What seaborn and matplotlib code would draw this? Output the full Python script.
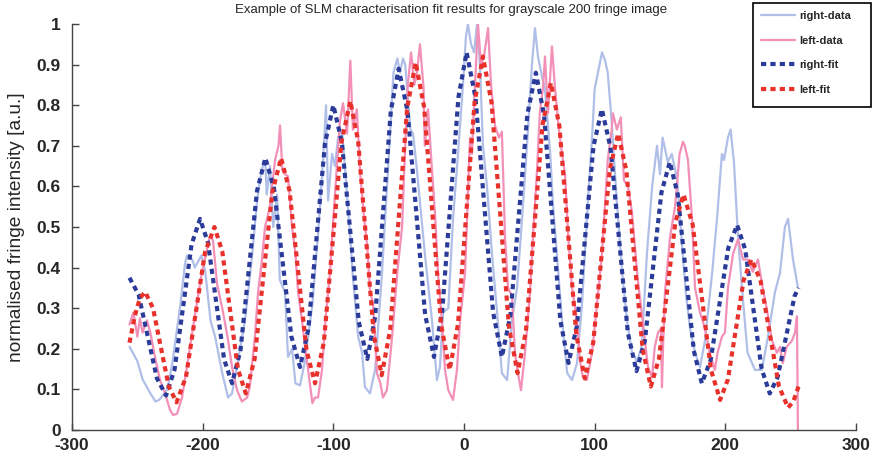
import matplotlib
matplotlib.use("Agg")
import matplotlib.pyplot as plt
from matplotlib.patches import Rectangle
import seaborn as sns
import numpy as np
import pandas as pd

# ---------------- data ----------------
right_data_x = [-256, -250, -246, -240, -236, -233, -227, -223, -217, -213.5, -212, -208, -206, -201, -198,
                -194, -190.5, -185, -180.6, -177.5, -173, -167.6, -162, -158.4, -156, -154, -152, -151, -148.5,
                -146, -143, -141, -137, -134.7, -131.6, -129, -125.5, -121.7, -116, -111.7, -108, -105.6, -104,
                -101, -98.7, -96.4, -93.4, -91, -87, -85, -81, -78, -75.8, -72, -68, -62.8, -58, -54, -51, -49,
                -46.7, -45, -41, -39, -36, -30, -24.5, -20.7, -18.4, -16, -12, -8.4, -4.6, -0.8, 1.5, 3, 5.4,
                7.7, 10, 12.2, 14.5, 17.6, 21.4, 25.3, 29, 33, 36.7, 40.6, 44.4, 48.2, 52, 54.3, 56.6, 59.7,
                62, 66, 68, 71, 75, 79, 82.7, 86.5, 90.3, 94, 98, 100, 102.5, 105.6, 108, 110, 113, 117, 121,
                124.7, 128.6, 132.4, 136, 140, 144, 147.7, 150, 152, 156, 159, 163, 167, 170, 173, 176.8,
                180.6, 184.4, 190, 193.6, 197.4, 199, 202, 204, 206.6, 209.7, 213.5, 217, 222.7, 228, 232.6,
                238, 241.8, 245.6, 248, 251.8, 255.6]
right_data_y = [0.205, 0.17, 0.125, 0.09, 0.07, 0.075, 0.10, 0.17, 0.31, 0.41, 0.43, 0.42, 0.40, 0.43, 0.39,
                0.27, 0.23, 0.14, 0.08, 0.09, 0.17, 0.27, 0.435, 0.565, 0.62, 0.65, 0.66, 0.58, 0.65,
                0.50, 0.58, 0.37, 0.34, 0.18, 0.20, 0.115, 0.11, 0.17, 0.31, 0.485, 0.655, 0.80, 0.565,
                0.68, 0.65, 0.72, 0.74, 0.64, 0.475, 0.377, 0.23, 0.19, 0.106, 0.09, 0.148, 0.386, 0.65,
                0.88, 0.915, 0.88, 0.915, 0.90, 0.74, 0.73, 0.64, 0.435, 0.27, 0.123, 0.155, 0.29, 0.30,
                0.52, 0.68, 0.85, 0.97, 1.0, 0.95, 0.93, 1.0, 0.90, 0.70, 0.60, 0.435, 0.29, 0.14, 0.123,
                0.27, 0.35, 0.52, 0.70, 0.90, 0.99, 0.92, 0.87, 0.84, 0.68, 0.56, 0.435, 0.27, 0.14, 0.123,
                0.165, 0.31, 0.52, 0.72, 0.84, 0.88, 0.93, 0.91, 0.88, 0.76, 0.56, 0.39, 0.27, 0.19, 0.17,
                0.205, 0.435, 0.60, 0.70, 0.63, 0.72, 0.66, 0.68, 0.62, 0.45, 0.33, 0.25, 0.19, 0.155,
                0.22, 0.39, 0.52, 0.68, 0.665, 0.72, 0.74, 0.66, 0.475, 0.32, 0.19, 0.148, 0.148, 0.23,
                0.34, 0.386, 0.50, 0.52, 0.42, 0.35]

left_data_x = [-256, -253, -250, -248, -246, -242.6, -240, -236.5, -232.6, -228.8, -225, -222.7, -219.6,
               -215.8, -212, -208, -204, -200.5, -197, -195, -193.5, -192, -189, -185, -181, -177.5, -173.7,
               -170, -166, -164, -160, -157.6, -154.6, -152.3, -148.5, -144.6, -142, -140.8, -139, -137,
               -134.7, -131.6, -129, -127, -124, -120, -116, -114, -111.7, -108.7, -106, -102.5, -100, -97,
               -95, -92.6, -89.5, -87, -85, -82, -79.6, -77, -74, -72, -69.6, -66.6, -64, -62, -59, -55,
               -51, -47.4, -45, -43, -40.5, -38, -36, -33.7, -31, -30, -27.5, -24.5, -22, -20, -17, -14.5,
               -12, -8.4, -5.4, -3, 0.8, 2.3, 4.6, 6, 8.4, 10.7, 13, 15.3, 18.4, 20.7, 23.7, 26.8, 29,
               31.4, 33.7, 36.7, 39, 41.3, 43.6, 46.7, 50.5, 52.8, 55.9, 58, 60.5, 62, 64.3, 67.3, 69.6,
               72, 75, 77.3, 79.6, 82.7, 84, 86.5, 88.8, 91, 94, 98, 101.8, 105.6, 108, 110, 113, 114, 117,
               120, 122.4, 125.5, 128.6, 130.9, 133, 136, 138.5, 140.8, 143.9, 146, 148.5, 150.8, 151.5,
               152.3, 153.8, 157.7, 161.5, 165, 167.6, 169, 171.4, 174.5, 176.8, 180.6, 184.4, 188, 192,
               194, 197.4, 199.7, 202, 206, 209.7, 213.5, 217.3, 221, 225, 228, 231.9, 235.7, 239.5,
               241.8, 244, 247, 251, 253.3, 254.8, 255.6]
left_data_y = [0.26, 0.29, 0.23, 0.275, 0.24, 0.27, 0.24, 0.18, 0.123, 0.09, 0.05, 0.037, 0.04,
               0.08, 0.155, 0.24, 0.32, 0.39, 0.44, 0.47, 0.48, 0.465, 0.36, 0.30, 0.23, 0.155, 0.098,
               0.07, 0.08, 0.105, 0.23, 0.34, 0.42, 0.50, 0.55, 0.665, 0.70, 0.75, 0.64, 0.63,
               0.625, 0.50, 0.435, 0.34, 0.27, 0.165, 0.066, 0.08, 0.08, 0.148, 0.27, 0.39, 0.52, 0.665,
               0.76, 0.805, 0.73, 0.91, 0.74, 0.79, 0.64, 0.54, 0.45, 0.345, 0.31, 0.14, 0.115, 0.08,
               0.098, 0.23, 0.39, 0.50, 0.70, 0.85, 0.93, 0.85, 0.88, 0.95, 0.845, 0.70, 0.79, 0.64,
               0.525, 0.39, 0.27, 0.148, 0.098, 0.074, 0.148, 0.27, 0.386, 0.52, 0.72, 0.68, 0.85, 1.0,
               0.90, 0.92, 0.99, 0.85, 0.75, 0.72, 0.735, 0.475, 0.35, 0.33, 0.19, 0.14, 0.098, 0.19,
               0.34, 0.475, 0.64, 0.78, 0.845, 0.92, 0.78, 0.945, 0.845, 0.76, 0.68, 0.63, 0.485, 0.35,
               0.32, 0.27, 0.17, 0.13, 0.123, 0.19, 0.31, 0.435, 0.56, 0.665, 0.74, 0.78, 0.74, 0.77,
               0.615, 0.60, 0.535, 0.45, 0.37, 0.29, 0.22, 0.155, 0.13, 0.205, 0.24, 0.25, 0.105, 0.20,
               0.34, 0.475, 0.55, 0.68, 0.71, 0.70, 0.665, 0.52, 0.35, 0.29, 0.25, 0.19, 0.148, 0.19,
               0.23, 0.24, 0.35, 0.435, 0.47, 0.42, 0.42, 0.39, 0.42, 0.36, 0.295, 0.22, 0.19, 0.205,
               0.165, 0.205, 0.22, 0.24, 0.28, -0.02]

right_fit_x = [-256, -249, -242, -235, -228, -221.5, -215, -208.5, -202, -195.9, -189.75, -183.6, -177.5,
               -171.1, -164.75, -158.4, -152, -145.4, -138.75, -132.1, -125.5, -119.1, -112.75, -106.4, -100,
               -93.5, -87, -80.5, -74, -68, -62, -56, -50, -43.25, -36.5, -29.75, -23, -16.75, -10.5, -4.25,
               2, 8.75, 15.5, 22.25, 29, 35.5, 42, 48.5, 55, 61.25, 67.5, 73.75, 80, 86.4, 92.75, 99.1,
               105.5, 112.1, 118.75, 125.4, 132, 138.4, 144.75, 151.1, 157.5, 163.6, 169.75, 175.9, 182,
               188.75, 195.5, 202.25, 209, 215.25, 221.5, 227.75, 234, 240, 246.5, 253, 256]
right_fit_y = [0.375, 0.333, 0.23, 0.127, 0.085, 0.149, 0.3025, 0.457, 0.52, 0.461, 0.3175, 0.174, 0.115,
               0.196, 0.3925, 0.589, 0.67, 0.595, 0.4125, 0.23, 0.155, 0.249, 0.4775, 0.706, 0.80,
               0.709, 0.4875, 0.266, 0.175, 0.279, 0.5325, 0.786, 0.89, 0.786, 0.535, 0.284, 0.18, 0.29,
               0.555, 0.82, 0.93, 0.82, 0.555, 0.29, 0.18, 0.282, 0.53, 0.778, 0.88, 0.776, 0.5225, 0.269,
               0.165, 0.256, 0.4775, 0.699, 0.79, 0.696, 0.4675, 0.239, 0.145, 0.22, 0.4025, 0.585, 0.66,
               0.58, 0.3875, 0.195, 0.115, 0.172, 0.31, 0.448, 0.505, 0.444, 0.2975, 0.151, 0.09, 0.13,
               0.23, 0.33, 0.35]

left_fit_x = [-256, -252, -248, -244, -238, -232, -226, -220, -212.75, -205.5, -198.25, -191, -185, -179,
              -173, -167, -160.25, -153.5, -146.75, -140, -133.5, -127, -120.5, -114, -107.25, -100.5,
              -93.75, -87, -81, -75, -69, -63, -56.5, -50, -43.5, -37, -30.5, -24, -17.5, -11, -4.6, 1.75,
              8.1, 14.5, 21.1, 27.75, 34.4, 41, 47.4, 53.75, 60.1, 66.5, 73, 79.5, 86, 92.5, 98.9, 105.25,
              111.6, 118, 124.25, 130.5, 136.75, 143, 149.25, 155.5, 161.75, 168, 175, 182, 189, 196, 202,
              208, 214, 220, 227, 234, 241, 248, 252, 256]
left_fit_y = [0.215, 0.28, 0.325, 0.34, 0.30, 0.204, 0.108, 0.068, 0.131, 0.284, 0.437, 0.50, 0.44, 0.295,
              0.15, 0.09, 0.175, 0.38, 0.585, 0.67, 0.589, 0.3925, 0.196, 0.115, 0.216, 0.4625, 0.709,
              0.81, 0.711, 0.4725, 0.234, 0.135, 0.247, 0.52, 0.793, 0.905, 0.795, 0.5265, 0.259, 0.148,
              0.261, 0.534, 0.807, 0.92, 0.806, 0.53, 0.254, 0.14, 0.244, 0.4975, 0.751, 0.855, 0.749,
              0.491, 0.233, 0.127, 0.215, 0.4285, 0.642, 0.73, 0.639, 0.4185, 0.198, 0.107, 0.176,
              0.3435, 0.511, 0.58, 0.506, 0.327, 0.148, 0.074, 0.125, 0.247, 0.369, 0.42, 0.367, 0.2375,
              0.108, 0.055, 0.07, 0.107]

series_labels = ["right-data", "left-data", "right-fit", "left-fit"]
x_ticks = [-300, -200, -100, 0, 100, 200, 300]
y_ticks = [0, 0.1, 0.2, 0.3, 0.4, 0.5, 0.6, 0.7, 0.8, 0.9, 1]
y_tick_labels = ["0", "0.1", "0.2", "0.3", "0.4", "0.5", "0.6", "0.7", "0.8", "0.9", "1"]
title_text = "Example of SLM characterisation fit results for grayscale 200 fringe image"
y_label = "normalised fringe intensity [a.u.]"

# ---------------- style ----------------
sns.set_theme(style="ticks")
plt.rcParams["font.family"] = ["Liberation Sans", "DejaVu Sans"]
plt.rcParams["axes.unicode_minus"] = False

colors = {"right-data": "#b0bfe8", "left-data": "#f290b8",
          "right-fit": "#2a3b9a", "left-fit": "#e8312b"}

W, H = 877, 457
fig = plt.figure(figsize=(W / 100, H / 100), dpi=100)
ax = fig.add_axes([72 / W, 1 - 430 / H, (856 - 72) / W, (430 - 24) / H])

df_rd = pd.DataFrame({"x": right_data_x, "y": right_data_y})
df_ld = pd.DataFrame({"x": left_data_x, "y": left_data_y})
df_rf = pd.DataFrame({"x": right_fit_x, "y": right_fit_y})
df_lf = pd.DataFrame({"x": left_fit_x, "y": left_fit_y})

dash = (0, (1.25, 1.0))
sns.lineplot(data=df_rd, x="x", y="y", ax=ax, color=colors["right-data"], lw=1.6,
             estimator=None, sort=False, label=series_labels[0])
sns.lineplot(data=df_ld, x="x", y="y", ax=ax, color=colors["left-data"], lw=1.6,
             estimator=None, sort=False, label=series_labels[1])
sns.lineplot(data=df_rf, x="x", y="y", ax=ax, color=colors["right-fit"], lw=3.0,
             estimator=None, sort=False, label=series_labels[2], linestyle=dash)
sns.lineplot(data=df_lf, x="x", y="y", ax=ax, color=colors["left-fit"], lw=3.0,
             estimator=None, sort=False, label=series_labels[3], linestyle=dash)

ax.set_xlim(-300, 300)
ax.set_ylim(0, 1)
ax.set_xticks(x_ticks)
ax.set_xticklabels([str(t) for t in x_ticks])
ax.set_yticks(y_ticks)
ax.set_yticklabels(y_tick_labels)
ax.set_xlabel("")
ax.set_ylabel(y_label, fontsize=13.8)
ax.yaxis.set_label_coords((25 - 72) / 784, 0.5)

for lab in ax.get_xticklabels() + ax.get_yticklabels():
    lab.set_fontweight("bold")
    lab.set_fontsize(12.5)
ax.tick_params(axis="y", direction="in", length=5, width=1, color="#444444", pad=8)
ax.tick_params(axis="x", direction="in", length=5, width=1, color="#444444", pad=6)
for s in ["top", "right"]:
    ax.spines[s].set_visible(False)
for s in ["left", "bottom"]:
    ax.spines[s].set_color("#444444")
    ax.spines[s].set_linewidth(1.0)

fig.text(451 / W, 1 - 10 / H, title_text, ha="center", va="center", fontsize=9.5)

# legend: frame drawn as a box, entries placed inside it
box = Rectangle((753 / W, 1 - 107 / H), (871 - 753) / W, 104 / H, transform=fig.transFigure,
                facecolor="white", edgecolor="black", lw=1.2, zorder=3)
fig.patches.append(box)
handles, labels = ax.get_legend_handles_labels()
ax.get_legend().remove()
leg = fig.legend(handles, labels, loc="upper left", bbox_to_anchor=(753 / W, 1 - 3 / H),
                 prop={"weight": "bold", "size": 8}, frameon=False,
                 labelspacing=1.32, handlelength=3.1, handletextpad=0.35,
                 borderpad=0.72, borderaxespad=0)
leg.set_zorder(5)

fig.savefig("out.png", dpi=100)
